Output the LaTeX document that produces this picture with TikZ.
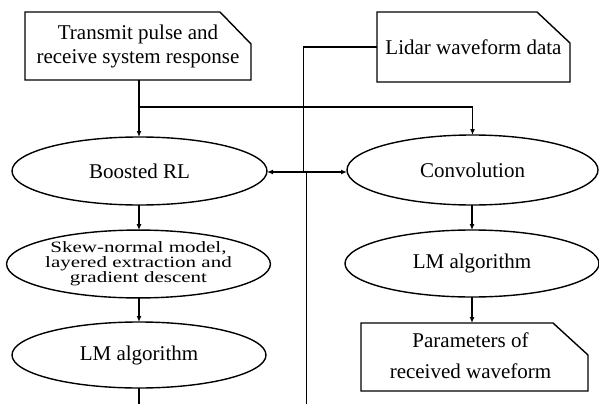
\documentclass[tikz,border=0pt]{standalone}
\usepackage{fontspec}
\setmainfont{Liberation Serif}
\usetikzlibrary{shapes.geometric,arrows.meta}
\begin{document}
\begin{tikzpicture}[x=1pt,y=-1pt,
  every node/.style={font=\fontsize{21}{24}\selectfont, align=center},
  ell/.style={draw, ellipse, line width=1.4pt, inner sep=0pt, outer sep=0pt},
  box/.style={rectangle, inner sep=0pt, outer sep=0pt},
  outline/.style={line width=1.4pt, line join=miter},
  conn/.style={line width=1.4pt},
  arr/.style={line width=1.4pt, -{Latex[length=6pt,width=5pt]}}]
\useasboundingbox (0,0) rectangle (599,404);

\node[box, minimum width=226pt, minimum height=68pt] (tx) at (138,46)
  {Transmit pulse and\\receive system response};
\draw[outline] (tx.north west) -- ([xshift=-31pt]tx.north east)
  -- ([yshift=-32pt]tx.north east) -- (tx.south east) -- (tx.south west) -- cycle;

\node[box, minimum width=193pt, minimum height=70pt] (lidar) at (473.5,47)
  {\raisebox{-4pt}{Lidar waveform data}};
\draw[outline] (lidar.north west) -- ([xshift=-33pt]lidar.north east)
  -- ([yshift=-31pt]lidar.north east) -- (lidar.south east) -- (lidar.south west) -- cycle;

\node[box, minimum width=227pt, minimum height=68pt,
  font=\fontsize{21}{28}\selectfont] (par) at (474.5,357)
  {\hspace*{-8pt}\begin{tabular}{@{}c@{}}Parameters of\\[3pt]received waveform\end{tabular}};
\draw[outline] (par.north west) -- ([xshift=-35pt]par.north east)
  -- ([yshift=-32pt]par.north east) -- (par.south east) -- (par.south west) -- cycle;

\node[ell, minimum width=255pt, minimum height=68pt] (brl) at (139.5,171) {Boosted RL};
\node[ell, minimum width=253pt, minimum height=67pt] (skew) at (138.5,264)
  {\scalebox{1}[0.75]{\begin{tabular}{@{}c@{}}Skew-normal model,\\[-4pt]layered extraction and\\[-4pt]gradient descent\end{tabular}}};
\node[ell, minimum width=254pt, minimum height=66pt] (lml) at (139,355) {LM algorithm};
\node[ell, minimum width=251pt, minimum height=70pt] (conv) at (472.5,170) {Convolution};
\node[ell, minimum width=254pt, minimum height=67pt] (lmr) at (472,263.5) {LM algorithm};

\coordinate (split) at (139,107);
\coordinate (hub) at (303.5,172);
\coordinate (hubb) at (306.5,172);
\coordinate (bot) at (306.5,404);
\coordinate (botl) at (139,404);

\draw[arr] (tx.south -| split) -- (brl.north -| split);
\draw[arr] (split) -| (conv.north);
\draw[conn] (lidar.west) -| (hub);
\draw[arr] (hub) -- (brl.east |- hub);
\draw[arr] (hub) -- (conv.west |- hub);
\draw[conn] (hubb) -- (bot);
\draw[arr] (brl.south -| split) -- (skew.north -| split);
\draw[arr] (skew.south -| split) -- (lml.north -| split);
\draw[conn] (lml.south -| split) -- (botl);
\draw[arr] (conv.south -| lmr.north) -- (lmr.north);
\draw[arr] (lmr.south) -- (par.north -| lmr.south);
\end{tikzpicture}
\end{document}
